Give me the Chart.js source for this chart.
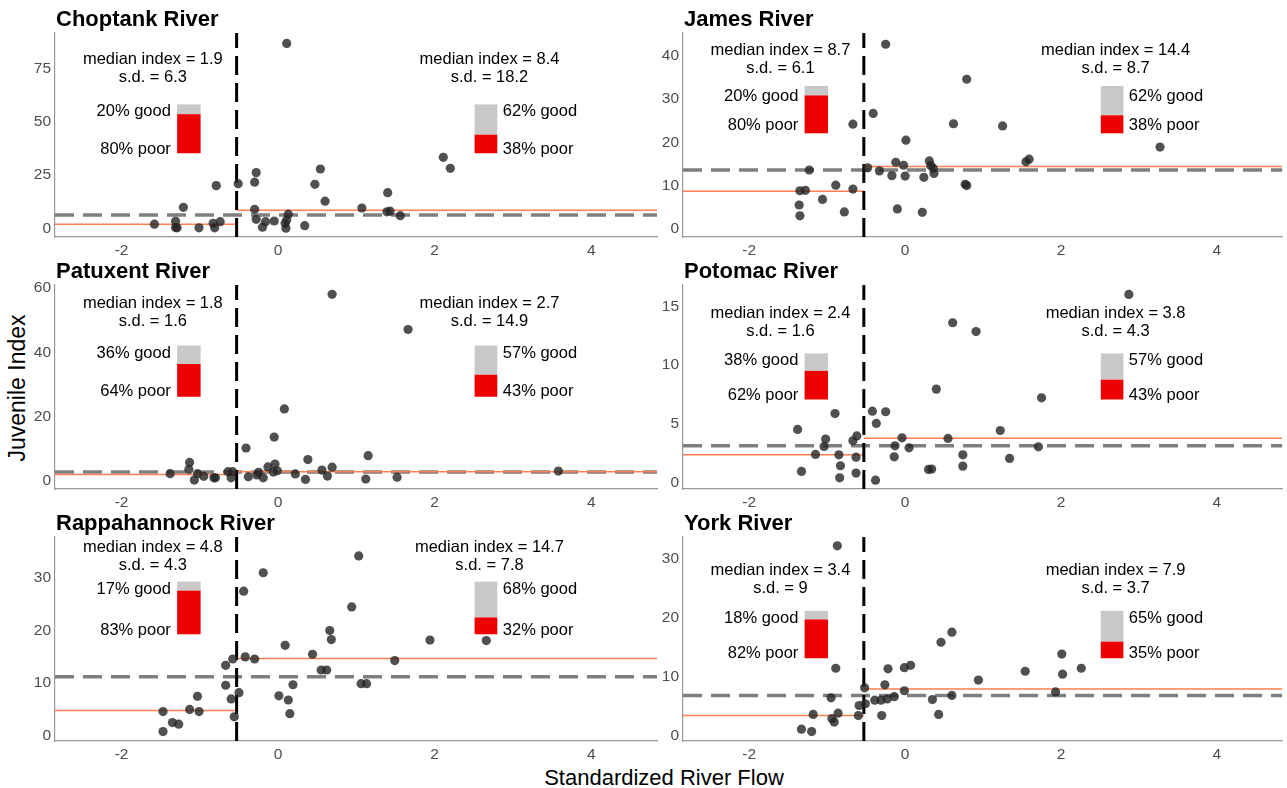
<!DOCTYPE html>
<html>
<head>
<meta charset="utf-8">
<script src="https://cdn.jsdelivr.net/npm/chart.js@4.4.0/dist/chart.umd.min.js"></script>
<style>
  body { margin: 0; background: #fff; width: 1287px; height: 788px; position: relative; overflow: hidden; font-family: "Liberation Sans", Arial, sans-serif; }
  canvas { position: absolute; }
  .axis-title { position: absolute; font-size: 22px; color: #000; white-space: nowrap; transform: translate(-50%, -50%); }
  #ytitle { font-size: 23px; transform: translate(-50%, -50%) rotate(-90deg); }
</style>
</head>
<body>
<div id="ytitle" class="axis-title" style="left:17px; top:388px;">Juvenile Index</div>
<div class="axis-title" style="left:664px; top:778px;">Standardized River Flow</div>

<script>
// Данные: стандартизированный сток и индекс молоди по рекам
const rivers = ['Choptank River', 'James River', 'Patuxent River', 'Potomac River', 'Rappahannock River', 'York River'];
const xTicks = [-2, 0, 2, 4];
const flowSplit = -0.53;

const choptankFlow = [0.11, 2.11, 2.20, 0.54, -0.28, -0.30, -0.51, 0.47, -0.79, 1.40, 0.60, -1.21, 1.07, -0.30, 1.39, 1.43, 0.13, 1.56, -0.28, -1.58, -1.31, -0.74, -0.16, -0.05, 0.11, 0.09, -0.83, 0.34, -1.31, -1.29, -1.01, -0.81, -0.20, 0.10];
const choptankIndex = [86.7, 33.3, 28.1, 27.8, 26.1, 21.6, 20.9, 20.6, 20.0, 16.7, 12.7, 9.8, 9.5, 8.9, 7.7, 8.0, 6.6, 5.9, 4.2, 1.9, 3.3, 3.1, 3.1, 3.4, 3.9, 2.3, 2.3, 1.2, 0.3, 0.2, 0.2, 0.2, 0.5, 0.0];

const jamesFlow = [-0.25, 0.79, -0.41, -0.67, 0.62, 1.25, 0.01, 3.27, 1.59, 1.55, -0.12, 0.31, -0.02, 0.33, -0.48, 0.36, -0.33, -1.23, 0.37, -0.17, 0.00, 0.24, 0.77, 0.79, -0.89, -0.67, -1.35, -1.28, -1.06, -1.36, -0.10, -0.78, 0.22, -1.35];
const jamesIndex = [42.7, 34.6, 26.7, 24.2, 24.3, 23.8, 20.5, 18.9, 16.1, 15.5, 15.4, 15.7, 14.7, 14.6, 14.1, 14.0, 13.4, 13.6, 12.8, 12.3, 12.2, 11.9, 10.3, 10.0, 10.1, 9.2, 8.8, 8.9, 6.8, 5.5, 4.6, 3.9, 3.8, 3.0];

const patuxentFlow = [0.69, 1.66, 0.08, -0.05, -0.41, 1.15, 0.38, -1.13, -0.04, -0.13, 0.69, -1.14, 0.56, -0.01, 3.58, -0.64, -0.58, -0.25, -0.06, -1.38, -1.03, 0.22, -0.27, -0.95, -0.82, -0.80, -0.38, -0.60, -0.19, 0.63, 1.52, 1.12, 0.35, -1.07];
const patuxentIndex = [58.1, 47.1, 22.3, 13.5, 10.1, 7.7, 6.5, 5.6, 5.1, 4.2, 4.1, 3.4, 3.2, 3.0, 2.9, 2.7, 2.7, 2.5, 2.6, 2.1, 2.1, 2.0, 1.7, 1.25, 0.8, 0.8, 1.15, 0.8, 0.8, 1.35, 1.0, 0.4, 0.3, 0.1];

const potomacFlow = [2.87, 0.61, 0.91, 0.40, 1.75, -0.42, -0.25, -0.90, -0.37, -1.38, 1.22, -0.62, -0.04, 0.55, -1.02, -0.67, -0.13, -1.04, 0.05, 1.71, -1.15, -0.85, 0.74, -0.63, -0.14, 1.34, -0.83, 0.74, 0.30, 0.34, -1.33, -0.63, -0.84, -0.38];
const potomacIndex = [16.0, 13.6, 12.85, 7.97, 7.23, 6.10, 6.05, 5.9, 5.06, 4.55, 4.46, 4.0, 3.84, 3.79, 3.73, 3.59, 3.16, 3.11, 2.99, 3.08, 2.43, 2.40, 2.40, 2.20, 2.23, 2.09, 1.47, 1.44, 1.16, 1.19, 0.99, 0.85, 0.45, 0.25];

const rappahannockFlow = [1.03, -0.19, -0.44, 0.94, 0.66, 0.68, 1.94, 2.66, 0.09, 0.44, -0.42, -0.30, -0.58, 1.49, -0.67, 0.55, 0.62, 1.06, 1.13, -0.67, 0.19, -0.50, -1.03, -0.60, 0.01, 0.13, -1.13, -1.01, -1.47, 0.15, -0.56, -1.35, -1.27, -1.47];
const rappahannockIndex = [34.2, 31.0, 27.5, 24.5, 20.0, 18.3, 18.2, 18.1, 17.2, 15.5, 15.0, 14.6, 14.6, 14.3, 13.4, 12.5, 12.5, 9.9, 9.9, 9.6, 9.7, 8.2, 7.5, 7.0, 7.6, 6.8, 5.0, 4.6, 4.6, 4.2, 3.6, 2.5, 2.2, 0.8];

const yorkFlow = [-0.87, 0.60, 0.46, 2.01, -0.89, -0.22, -0.01, 0.07, 2.26, 1.54, 2.02, 0.94, -0.26, -0.52, -0.01, 1.93, 0.60, -0.95, -0.14, -0.23, -0.39, -0.31, 0.35, -0.51, -0.59, -0.86, -1.18, -0.60, -0.30, 0.43, -0.94, -0.91, -1.33, -1.20];
const yorkIndex = [32.1, 17.5, 15.8, 13.8, 11.4, 11.3, 11.5, 11.9, 11.4, 10.9, 10.4, 9.4, 8.6, 8.1, 7.6, 7.4, 6.8, 6.4, 6.6, 6.2, 6.0, 6.0, 6.1, 5.4, 5.1, 3.8, 3.6, 3.4, 3.4, 3.6, 2.9, 2.3, 1.1, 0.7];

const flows = [choptankFlow, jamesFlow, patuxentFlow, potomacFlow, rappahannockFlow, yorkFlow];
const indices = [choptankIndex, jamesIndex, patuxentIndex, potomacIndex, rappahannockIndex, yorkIndex];

const yTicks = [[0, 25, 50, 75], [0, 10, 20, 30, 40], [0, 20, 40, 60], [0, 5, 10, 15], [0, 10, 20, 30], [0, 10, 20, 30]];
const overallMedian = [6.25, 13.6, 2.6, 3.16, 11.2, 6.8];
const medianLow = [1.9, 8.7, 1.8, 2.4, 4.8, 3.4];
const medianHigh = [8.4, 14.4, 2.7, 3.8, 14.7, 7.9];
const sdLow = [6.3, 6.1, 1.6, 1.6, 4.3, 9];
const sdHigh = [18.2, 8.7, 14.9, 4.3, 7.8, 3.7];
const goodLow = [20, 20, 36, 38, 17, 18];
const goodHigh = [62, 62, 57, 57, 68, 65];

// Разметка панелей (диапазоны осей и положение подписей)
const xRange = [-2.85, 4.84];
const yRanges = [[-4.1, 91.6], [-1.9, 45.3], [-2.7, 61.0], [-0.5, 16.8], [-1.0, 37.8], [-0.9, 33.6]];
const textY = [79.2, 41.2, 55.3, 14.4, 35.8, 27.9];
const barTop = [58.1, 33.05, 42.1, 11.0, 29.3, 21.1];
const barBottom = [35.2, 22.1, 26.1, 7.09, 19.3, 13.1];
const goodLabelY = [55.0, 30.6, 39.7, 10.4, 27.9, 19.9];
const poorLabelY = [37.2, 23.8, 27.7, 7.46, 20.0, 13.9];

const FONT = '"Liberation Sans", Arial, sans-serif';
const CORAL = '#ff7f50';

// Подписи, столбики good/poor и заголовок панели
const annotate = {
    id: 'annotate',
    afterDatasetsDraw(chart, args, opts) {
        const i = opts.panel;
        const { ctx, chartArea, scales: { x, y } } = chart;
        ctx.save();

        // Столбики
        const drawBar = (x0v, x1v, good) => {
            const x0 = x.getPixelForValue(x0v), x1 = x.getPixelForValue(x1v);
            const top = y.getPixelForValue(barTop[i]);
            const bot = y.getPixelForValue(barBottom[i]);
            const mid = y.getPixelForValue(barBottom[i] + (barTop[i] - barBottom[i]) * (100 - good) / 100);
            ctx.fillStyle = '#c8c8c8';
            ctx.fillRect(x0, top, x1 - x0, mid - top);
            ctx.fillStyle = '#ee0000';
            ctx.fillRect(x0, mid, x1 - x0, bot - mid);
        };
        drawBar(-1.29, -0.99, goodLow[i]);
        drawBar(2.51, 2.80, goodHigh[i]);

        ctx.fillStyle = '#000';
        ctx.font = '16.5px ' + FONT;
        ctx.textBaseline = 'middle';

        // Медиана и s.d.
        ctx.textAlign = 'center';
        const ty = y.getPixelForValue(textY[i]);
        ctx.fillText('median index = ' + medianLow[i], x.getPixelForValue(-1.6), ty);
        ctx.fillText('s.d. = ' + sdLow[i], x.getPixelForValue(-1.6), ty + 18);
        ctx.fillText('median index = ' + medianHigh[i], x.getPixelForValue(2.7), ty);
        ctx.fillText('s.d. = ' + sdHigh[i], x.getPixelForValue(2.7), ty + 18);

        // good / poor
        const gy = y.getPixelForValue(goodLabelY[i]);
        const py = y.getPixelForValue(poorLabelY[i]);
        ctx.textAlign = 'right';
        ctx.fillText(goodLow[i] + '% good', x.getPixelForValue(-1.37), gy);
        ctx.fillText((100 - goodLow[i]) + '% poor', x.getPixelForValue(-1.37), py);
        ctx.textAlign = 'left';
        ctx.fillText(goodHigh[i] + '% good', x.getPixelForValue(2.87), gy);
        ctx.fillText((100 - goodHigh[i]) + '% poor', x.getPixelForValue(2.87), py);

        // Заголовок
        ctx.font = 'bold 22px ' + FONT;
        ctx.textBaseline = 'alphabetic';
        ctx.fillText(rivers[i], chartArea.left + 1, chartArea.top - 7);
        ctx.restore();
    }
};

const chartTops = [33, 285, 537];
const chartLefts = [55, 683];
const chartRights = [657, 1285];
const canvasLefts = [20, 645];
const canvasWidth = 642;
const canvasHeight = 260;

rivers.forEach((name, i) => {
    const row = Math.floor(i / 2), col = i % 2;
    const canvas = document.createElement('canvas');
    canvas.width = canvasWidth;
    canvas.height = canvasHeight;
    canvas.style.left = canvasLefts[col] + 'px';
    canvas.style.top = (chartTops[row] - 33) + 'px';
    document.body.appendChild(canvas);

    const points = flows[i].map((v, k) => ({ x: v, y: indices[i][k] }));
    const [yMin, yMax] = yRanges[i];

    new Chart(canvas, {
        type: 'scatter',
        data: {
            datasets: [
                {
                    data: points,
                    pointRadius: 4.6,
                    pointBackgroundColor: 'rgba(36,36,36,0.8)',
                    pointBorderWidth: 0
                },
                {
                    type: 'line',
                    data: [{ x: flowSplit, y: yMin }, { x: flowSplit, y: yMax }],
                    borderColor: '#000',
                    borderWidth: 3,
                    borderDash: [19, 8],
                    pointRadius: 0
                },
                {
                    type: 'line',
                    data: [{ x: xRange[0], y: medianLow[i] }, { x: flowSplit, y: medianLow[i] }],
                    borderColor: CORAL,
                    borderWidth: 1.5,
                    pointRadius: 0
                },
                {
                    type: 'line',
                    data: [{ x: flowSplit, y: medianHigh[i] }, { x: xRange[1], y: medianHigh[i] }],
                    borderColor: CORAL,
                    borderWidth: 1.5,
                    pointRadius: 0
                },
                {
                    type: 'line',
                    data: [{ x: xRange[0], y: overallMedian[i] }, { x: xRange[1], y: overallMedian[i] }],
                    borderColor: '#7f7f7f',
                    borderWidth: 3.5,
                    borderDash: [19, 9],
                    pointRadius: 0
                }
            ]
        },
        options: {
            responsive: false,
            animation: false,
            devicePixelRatio: 1,
            events: [],
            layout: {
                padding: { top: 33, right: canvasLefts[col] + canvasWidth - chartRights[col], left: 0, bottom: 0 }
            },
            plugins: {
                legend: { display: false },
                tooltip: { enabled: false },
                annotate: { panel: i }
            },
            scales: {
                x: {
                    type: 'linear',
                    min: xRange[0],
                    max: xRange[1],
                    grid: { display: false, drawTicks: false },
                    border: { display: true, color: '#999', width: 1.2 },
                    ticks: { color: '#4d4d4d', font: { size: 15.5, family: FONT }, padding: 4 },
                    afterBuildTicks: s => { s.ticks = xTicks.map(v => ({ value: v })); },
                    afterFit: s => { s.height = 23; }
                },
                y: {
                    type: 'linear',
                    min: yMin,
                    max: yMax,
                    grid: { display: false, drawTicks: false },
                    border: { display: true, color: '#999', width: 1.2 },
                    ticks: { color: '#4d4d4d', font: { size: 15.5, family: FONT }, padding: 4 },
                    afterBuildTicks: s => { s.ticks = yTicks[i].map(v => ({ value: v })); },
                    afterFit: s => { s.width = chartLefts[col] - canvasLefts[col]; }
                }
            }
        },
        plugins: [annotate]
    });
});
</script>
</body>
</html>
